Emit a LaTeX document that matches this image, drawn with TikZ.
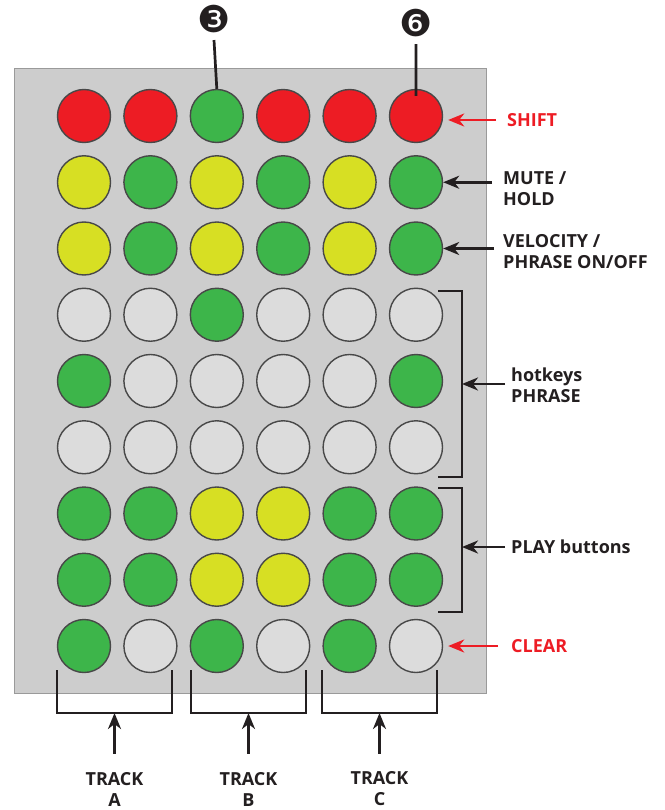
\documentclass[tikz,border=0pt]{standalone}
\usepackage{fontspec}
\setmainfont{Open Sans}
\newfontfamily\dingfont{DejaVu Sans}
\usetikzlibrary{arrows.meta,positioning,calc}
\definecolor{panel}{HTML}{CDCDCD}
\definecolor{panelline}{HTML}{9A9A9A}
\definecolor{ink}{HTML}{231F20}
\definecolor{padR}{HTML}{ED1C24}
\definecolor{padG}{HTML}{3DB54A}
\definecolor{padY}{HTML}{D7DF23}
\definecolor{padL}{HTML}{DCDCDC}
\definecolor{padline}{HTML}{484848}
\definecolor{alertred}{HTML}{ED1C24}
\tikzset{
  pad/.style={circle,draw=padline,line width=1.4pt,
              minimum size=53pt,inner sep=0pt},
  sidelabel/.style={anchor=west,align=left,text=ink,inner sep=0pt,
                    font=\bfseries\fontsize{18}{21}\selectfont},
  redlabel/.style={sidelabel,text=alertred},
  tracklabel/.style={align=center,text=ink,inner sep=0pt,
                     font=\bfseries\fontsize{18}{21}\selectfont},
  numlabel/.style={font=\dingfont\fontsize{37}{37}\selectfont,
                   text=ink,inner sep=0pt},
  blkarr/.style={-{Stealth[length=16pt,width=13pt,inset=5pt]},
                 line width=2.6pt,draw=ink},
  redarr/.style={blkarr,draw=alertred},
  bracket/.style={draw=ink,line width=2.6pt},
  tickline/.style={draw=ink,line width=2.7pt}
}
\begin{document}
\begin{tikzpicture}[x=1pt,y=-1pt]
  \useasboundingbox (0,0) rectangle (664,810);
  % panel
  \draw[panelline,fill=panel,line width=0.8pt] (14,68) rectangle (486,693);
  % pads
  \foreach \rowcols [count=\r] in {{R,R,G,R,R,R},{Y,G,Y,G,Y,G},{Y,G,Y,G,Y,G},
      {L,L,G,L,L,L},{G,L,L,L,L,G},{L,L,L,L,L,L},{G,G,Y,Y,G,G},
      {G,G,Y,Y,G,G},{G,L,G,L,G,L}} {
    \foreach \fc [count=\c] in \rowcols {
      \node[pad,fill=pad\fc] (p-\r-\c) at ({84+66.4*(\c-1)},{116+66.25*(\r-1)}) {};
    }
  }
  % numbers on top
  \node[numlabel] (n-three) at (214,19) {❸};
  \node[numlabel] (n-six) at (416,23) {❻};
  \draw[tickline] ([yshift=-7pt]n-three.south) -- (p-1-3.north);
  \draw[tickline] ([yshift=-7pt]n-six.south) -- ([yshift=-7pt]p-1-6.north);
  % side labels
  \node[redlabel] (shift) at (507,120) {SHIFT};
  \node[sidelabel] (mute) at (503,189) {MUTE /\\HOLD};
  \node[sidelabel] (velo) at (503,252) {VELOCITY /\\PHRASE ON/OFF};
  \node[sidelabel] (hotkeys) at (511,385) {hotkeys\\PHRASE};
  \node[sidelabel] (play) at (511,547) {PLAY buttons};
  \node[redlabel] (clear) at (511,646) {CLEAR};
  \draw[redarr] ([xshift=-11pt]shift.west) -- ([xshift=5pt]shift.west -| p-1-6.east);
  \draw[blkarr] ([xshift=-11pt]mute.west |- p-2-6.east) -- (p-2-6.east);
  \draw[blkarr] ([xshift=-9pt]velo.west |- p-3-6.east) -- (p-3-6.east);
  \draw[redarr] ([xshift=-13pt]clear.west) -- ([xshift=5pt]clear.west -| p-9-6.east);
  % right brackets
  \draw[bracket] (438,291) -| (462,477) -- (438,477);
  \draw[bracket] (438,488) -| (462,612) -- (438,612);
  \coordinate (hk-mid) at (462,384);
  \coordinate (pl-mid) at (462,547);
  \draw[blkarr] ([xshift=-6pt]hotkeys.west |- hk-mid) -- (hk-mid);
  \draw[blkarr] ([xshift=-6pt]play.west) -- (pl-mid);
  % track brackets
  \foreach \name/\xa/\xb in {A/57/172,B/191/306,C/322/437} {
    \draw[bracket] (\xa,670) |- (\xb,713) -- (\xb,670);
    \coordinate (br-\name) at ({(\xa+\xb)/2},713);
    \node[tracklabel] (trk-\name) at ({(\xa+\xb)/2},789) {TRACK\\\name};
    \draw[blkarr] ([yshift=18pt]trk-\name.north) -- (br-\name);
  }
\end{tikzpicture}
\end{document}
